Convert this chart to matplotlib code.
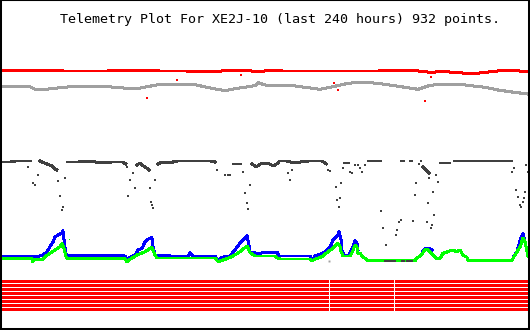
import numpy as np
import matplotlib
matplotlib.use("Agg")
import matplotlib.pyplot as plt

title = "Telemetry Plot For XE2J-10 (last 240 hours) 932 points."

# x = hours in window, y = plot level (arbitrary units, 0..330)
red_hours = list(range(0, 241, 4))
red_vals = [259.5, 259, 259.5, 259, 259.5, 259, 259.5, 259, 259, 259, 259, 259, 259, 259.5, 259,
            259.5, 259, 259.5, 259, 259, 259, 259, 258.5, 258, 258.5, 259, 259.5, 259, 259.5, 258.5,
            259, 259.5, 259, 259, 259, 259, 259, 259, 259, 259, 259, 259, 259, 259, 259.5,
            259.5, 259.5, 259.5, 258.5, 257.5, 258.5, 258, 257.5, 256.5, 256.5, 257.5, 258.5, 259.5, 259.5, 259,
            258.7]
red_out_h = [66.2, 79.9, 108.9, 151.5, 153.3, 193.0, 195.7]
red_out_v = [232, 250, 255, 247, 240, 229, 253]

gray_hours = [0, 12.8, 15.1, 20, 31.0, 42.4, 50, 60.7, 72.1, 88.1, 95, 101.8, 106.3, 115.4, 116.8,
              120.0, 133.7, 145.1, 149.7, 157.9, 165.6, 174.8, 183.9, 189.8, 194.4, 198.9, 211.3,
              220.4, 226.3, 232.7, 240]
gray_vals = [243.3, 243.3, 240.7, 240.7, 243.3, 244, 243, 241, 245.7, 245.3, 242, 239.3, 241.3, 244.3, 247.3,
             245, 244, 240.7, 242.7, 246.7, 248, 245.7, 242.7, 240.7, 244, 245.7, 245,
             242.7, 240, 238, 236]

# dark series: continuous stretches (nan = break) and scattered dips
dark_hours = [0, 4, 6, 12.8, np.nan,
              17.3, 18.3, 20.5, 22.8, 24.2, 25.0, np.nan,
              29.7, 35, 40, 45, 50, 55, 56.5, np.nan,
              61.6, 63, 64.5, 66, 67, np.nan,
              71.2, 73, 76, 80, 85, 90, 95, 97.2, np.nan,
              105.4, 108.6, np.nan,
              114.1, 116, 118, 120, 122, 124, 126, np.nan,
              126.8, 130, 133, 136, 140, 146, 148, np.nan,
              156.5, 158.3, np.nan,
              167.0, 172.9, np.nan,
              182.5, 183.0, np.nan, 186.2, 186.8, np.nan,
              192.1, 193, 194, 195, np.nan,
              199.9, 204.4, np.nan,
              206.5, 232.7]
dark_vals = [168, 168, 169, 169, np.nan,
             169, 168, 166, 164, 161, 160, np.nan,
             168, 168, 169, 167, 168, 168, 166, np.nan,
             165, 167, 164, 162, 160, np.nan,
             166, 168, 167, 169, 169, 169, 169, 168, np.nan,
             166, 166, np.nan,
             166, 163, 166, 167, 166, 164, 167, np.nan,
             169, 169, 167, 168, 169, 169, 166, np.nan,
             167, 167, np.nan,
             169, 169, np.nan,
             169, 169, np.nan, 169, 169, np.nan,
             163, 161, 159, 157, np.nan,
             167, 167, np.nan,
             169, 169]
dip_hours = [11.9, 14.1, 15.1, 16.4, 25.6, 26.5, 27.4, 27.8, 28.7, 57.0, 57.5, 58.4, 59.8, 60.7,
             67.5, 68.0, 68.4, 68.9, 69.8, 98.1, 101.8, 103.0, 104.0, 110.0, 110.9, 111.8, 112.2,
             113.2, 130.5, 131.4, 132.3, 148.8, 149.7, 152.4, 152.9, 153.8, 154.2, 154.7, 155.6,
             158.8, 159.7, 161.1, 162.4, 163.4, 164.3, 165.6, 172.9, 173.9, 175.2, 179.8, 180.2,
             181.2, 182.1, 187.5, 188.5, 188.9, 190.3, 191.2, 193.9, 194.4, 194.8, 195.7, 196.2,
             196.7, 197.1, 198.0, 198.9, 232.7, 233.6, 234.6, 235.5, 236.4, 236.8, 237.7, 238.2,
             238.6, 239.1, 240.0]
dip_vals = [163, 147, 145, 155, 149, 134, 120, 123, 152, 163, 134, 150, 157, 142,
            142, 128, 125, 122, 150, 160, 155, 155, 155, 158, 137, 127, 121,
            145, 157, 150, 160, 160, 159, 143, 130, 123, 132, 147, 162,
            158, 157, 165, 165, 162, 158, 165, 119, 102, 85, 95, 100,
            108, 110, 109, 135, 147, 166, 169, 108, 127, 152, 102, 105,
            138, 115, 155, 148, 158, 162, 140, 133, 125, 123, 128, 132,
            138, 165, 158]
dark_low_hours = [174.8, 179.3, np.nan, 182.5, 183.5, np.nan, 185.0, 187.3]
dark_low_vals = [69, 69, np.nan, 69, 69, np.nan, 69, 69]

blue_hours = [0, 13.7, 14.1, 15.1, 17.3, 18.7, 20.5, 21.9, 23.3, 24.2, 25.6, 27.4, 27.8, 28.7, 29.2,
              29.7, 35.6, 42.4, 49.3, 56.1, 57.0, 58.4, 60.7, 62.1, 63.9, 65.3, 66.6, 68.4, 68.9,
              69.8, 76.7, 85.0, 85.8, 87.0, 97.2, 98.6, 100.4, 104.0, 106.3, 108.6, 110.9, 111.8,
              113.2, 114.1, 116.8, 120.0, 125.5, 126.4, 140.5, 141.5, 142.8, 145.1, 147.4, 148.8,
              150.1, 151.0, 152.4, 153.3, 153.8, 154.7, 155.1, 156.1, 158.3, 158.8, 160.2, 161.1,
              162.0, 162.4, np.nan,
              192.1, 193.0, 193.9, 195.3, 196.2, np.nan,
              233.6, 235.0, 236.4, 237.7, 238.6, 239.6, 240.0]
blue_vals = [74, 74, 69.3, 73.3, 74, 75, 78.3, 83.3, 88.3, 93, 95, 97.3, 99.3, 83.3, 76.7,
             75, 74.5, 74, 74.5, 74, 70, 72.7, 75, 80, 81.7, 88.3, 90.7, 92.7, 83.3,
             75, 74, 74, 77.3, 74, 74, 69.3, 72.7, 74, 80, 86.7, 91.7, 94.3,
             78.3, 77.3, 76.7, 77.3, 77.7, 74, 74, 70, 74, 75.7, 78.3, 80.7,
             85, 90, 92.7, 95, 98.3, 90, 80, 74, 75, 77.3, 83.3, 89.3,
             86.7, 80, np.nan,
             79, 81, 81.5, 81, 80, np.nan,
             74, 78.3, 90, 96.7, 88.3, 78.3, 75]

green_hours = [0, 13.7, 14.1, 15.1, 18.7, 19.6, 21.9, 24.2, 26.5, 27.4, 28.3, 29.2, 29.7, 56.1,
               57.0, 58.4, 61.6, 65.3, 68.4, 69.8, 70.7, 97.2, 98.6, 101.8, 104.9, 108.6, 111.8,
               113.2, 115.4, 124.6, 125.9, 126.8, 140.5, 141.5, 142.8, 146.0, 148.8, 151.0, 153.3,
               154.2, 154.7, 155.6, 158.8, 159.7, 161.1, 162.0, 162.4, 163.4, 164.3, 165.6, 167.0,
               188.5, 189.0, 189.8, 191.2, 193.0, 193.9, 195.3, 196.7, 198.0, 199.9, 201.2, 203.5,
               205.3, 207.6, 209.0, 210.3, 212.2, 212.6, 232.7, 233.6, 235.0, 236.4, 237.7, 238.6,
               239.6, 240.0]
green_vals = [71.7, 71.7, 68.3, 70.7, 70.7, 73.3, 76.7, 80, 83.3, 86.7, 81.7, 73.3, 71.7, 71.7,
              68.3, 70.7, 75, 78.3, 82.7, 75, 72, 72, 68.3, 70.7, 73.3, 78.3, 84,
              77.3, 74, 74, 71.7, 71, 71, 69.3, 70.7, 73.3, 78.3, 81.7, 86.7,
              84, 78.3, 74, 74, 77.3, 85, 82.7, 76.7, 76.7, 74, 71.7, 69.3,
              69.3, 71.7, 72.7, 75, 80, 80.7, 78.3, 75, 71.7, 71.7, 76.7, 78.3,
              80, 78.3, 80, 75, 72.7, 69.3, 69.3, 73.3, 78.3, 83, 92, 88.3,
              78.3, 74]

# status bits at the bottom: 8 rows, broken at these hours
status_rows = 8
status_gaps = [149.2, 178.8]

fig = plt.figure(figsize=(5.3, 3.3), dpi=100)
ax = fig.add_axes([0, 0, 1, 1])
ax.set_xlim(-2 * 240 / 526, 240 + 2 * 240 / 526)
ax.set_ylim(0, 330)
ax.set_xticks([])
ax.set_yticks([])
for side in ["left", "right", "bottom"]:
    ax.spines[side].set_linewidth(2.9)
ax.spines["top"].set_linewidth(1.5)

lw = 1.44
ax.plot(gray_hours, gray_vals, color="#a0a0a0", lw=lw, antialiased=False)
ax.plot(red_hours, red_vals, color="#ff0000", lw=lw, antialiased=False)
ax.plot(red_out_h, red_out_v, "s", color="#ff0000", ms=1.5, mew=0)
ax.plot(dark_hours, dark_vals, color="#404040", lw=lw, antialiased=False)
ax.plot(dip_hours, dip_vals, "s", color="#404040", ms=1.5, mew=0)
ax.plot(blue_hours, blue_vals, color="#0000ff", lw=lw, antialiased=False)
ax.plot(green_hours, green_vals, color="#00ff00", lw=lw, antialiased=False)
ax.plot(dark_low_hours, dark_low_vals, color="#404040", lw=lw, antialiased=False)
ax.plot([149.3], [69], "s", color="#a0a0a0", ms=1.4, mew=0)

gap_w = 0.5
edges = [0] + [g for gap in status_gaps for g in (gap, gap + gap_w)] + [240]
segs = [(edges[i], edges[i + 1] - edges[i]) for i in range(0, len(edges), 2)]
for r in range(status_rows):
    ax.broken_barh(segs, (47 - 4 * r, 3), facecolors="#ff0000", antialiased=False)

fig.text(279.5 / 530, 1 - 22.5 / 330, title, ha="center", va="baseline",
         family="DejaVu Sans Mono", fontsize=9.6, color="black")

fig.savefig("out.png", dpi=100)
